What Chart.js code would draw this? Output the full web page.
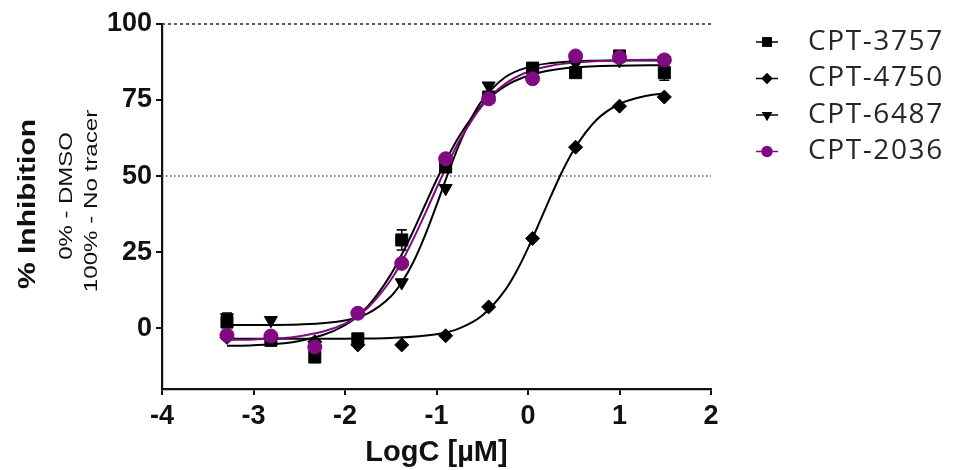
<!DOCTYPE html>
<html><head><meta charset="utf-8">
<script src="https://cdn.jsdelivr.net/npm/chart.js@4.4.1/dist/chart.umd.min.js"></script>
<style>html,body{margin:0;padding:0;background:#fff}#wrap{width:960px;height:470px;position:relative}</style>
</head><body><div id="wrap"><canvas id="c" width="960" height="470"></canvas></div>
<script>
// ---------- data ----------
const seriesNames = ['CPT-3757', 'CPT-4750', 'CPT-6487', 'CPT-2036'];
const logConc = [-3.29, -2.81, -2.33, -1.86, -1.38, -0.90, -0.43, 0.05, 0.52, 1.00, 1.49];
const cpt3757 = [2, -4, -9.5, -3.5, 29, 53, 76, 85.5, 84, 89.5, 84];
const cpt3757Err = [3, 1, 1, 1, 3.3, 1, 1, 1.5, 1, 1.5, 2.5];
const cpt4750 = [-3, -3, -4.5, -5.5, -5.5, -2.5, 7, 29.5, 59.5, 73, 76];
const cpt6487 = [3.5, 2.6, -7, -4.5, 15, 46, 79.7, 85, 87, 88, 88];
const cpt2036 = [-2.3, -2.6, -6.2, 4.9, 21.3, 55.7, 75.4, 82, 89.5, 89, 88.2];
const cpt2036Err = [1, 1, 1, 1, 1, 1, 1, 1.5, 1, 1, 1.5];

// fitted curves
const fitX = [-3.29, -3.0, -2.5, -2.0, -1.75, -1.5, -1.375, -1.25, -1.125, -1.0, -0.875, -0.75, -0.5, -0.25, 0, 0.25, 0.5, 1.0, 1.49];
const fit3757 = [-5.8, -5.6, -4.25, 0.96, 7.2, 17.6, 24.5, 32.2, 40.5, 48.7, 56.4, 63.2, 73.5, 79.6, 83.0, 84.8, 85.7, 86.3, 86.45];
const fit2036 = [-3.87, -3.69, -2.66, 1.5, 6.74, 15.84, 22.1, 29.5, 37.6, 46.0, 54.1, 61.6, 73.2, 80.3, 84.3, 86.3, 87.3, 88.1, 88.25];
const fitX6487 = [-3.29, -3.0, -2.5, -2.0, -1.75, -1.5, -1.375, -1.25, -1.125, -1.0, -0.875, -0.75, -0.625, -0.5, -0.25, 0, 0.25, 0.5, 1.0, 1.49];
const fit6487 = [1.0, 1.03, 1.22, 2.51, 4.85, 10.4, 15.25, 21.9, 30.5, 40.4, 50.8, 60.5, 68.7, 74.9, 82.5, 85.8, 87.15, 87.7, 87.97, 88.0];
const fitX4750 = [-3.29, -2.5, -2.0, -1.5, -1.0, -0.75, -0.5, -0.25, -0.125, 0, 0.125, 0.25, 0.375, 0.5, 0.75, 1.0, 1.25, 1.49];
const fit4750 = [-3.5, -3.49, -3.45, -3.23, -2.01, -0.07, 4.15, 12.5, 18.7, 26.3, 34.75, 43.4, 51.6, 58.6, 68.5, 73.7, 76.1, 77.2];

// reference lines
const refX = [-4, 2];
const ref100 = [100, 100];
const ref50 = [50, 50];

const xTicks = [-4, -3, -2, -1, 0, 1, 2];
const yTicks = [0, 25, 50, 75, 100];
const xTitle = 'LogC [µM]';
const yTitleLines = ['% Inhibition', '0% - DMSO', '100% - No tracer'];

// ---------- styles ----------
const PURPLE = '#800a80';
const pts = (xs, ys) => xs.map((x, i) => ({x: x, y: ys[i]}));
const markerStyles = [
  {pointStyle: 'rect', radius: 8.5, rotation: 0, color: '#000'},
  {pointStyle: 'rectRot', radius: 7, rotation: 0, color: '#000'},
  {pointStyle: 'triangle', radius: 7.5, rotation: 180, color: '#000'},
  {pointStyle: 'circle', radius: 7, rotation: 0, color: PURPLE}
];
const seriesData = [cpt3757, cpt4750, cpt6487, cpt2036];
const seriesErr = [cpt3757Err, null, null, cpt2036Err];
const fits = [[fitX, fit3757], [fitX4750, fit4750], [fitX6487, fit6487], [fitX, fit2036]];

const datasets = [];
datasets.push({type: 'line', label: 'ref100', data: pts(refX, ref100), borderColor: '#333', borderWidth: 1.6,
  borderDash: [3, 3], pointRadius: 0, fill: false, clip: false, order: 20});
datasets.push({type: 'line', label: 'ref50', data: pts(refX, ref50), borderColor: '#555', borderWidth: 1.5,
  borderDash: [1.5, 2.5], pointRadius: 0, fill: false, clip: false, order: 20});
fits.forEach((f, i) => {
  const m = markerStyles[i];
  datasets.push({type: 'line', label: seriesNames[i] + ' fit', data: pts(f[0], f[1]), borderColor: m.color,
    borderWidth: 2, pointRadius: 0, fill: false, cubicInterpolationMode: 'monotone',
    order: i === 3 ? 5 : 10});
});
seriesData.forEach((d, i) => {
  const m = markerStyles[i];
  datasets.push({type: 'scatter', label: seriesNames[i], data: pts(logConc, d), showLine: false,
    pointStyle: m.pointStyle, pointRadius: m.radius, pointRotation: m.rotation,
    backgroundColor: m.color, borderColor: m.color, borderWidth: 1, pointHoverRadius: m.radius,
    order: i === 3 ? 0 : 3, errorBars: seriesErr[i]});
});

const errorBarPlugin = {
  id: 'errbars',
  beforeDatasetDraw(chart, args) {
    const ds = chart.data.datasets[args.index];
    if (!ds.errorBars) return;
    const {ctx, scales: {x, y}} = chart;
    ctx.save();
    ctx.strokeStyle = ds.borderColor;
    ctx.lineWidth = 1.6;
    ds.data.forEach((p, i) => {
      const e = ds.errorBars[i];
      if (!e) return;
      const px = x.getPixelForValue(p.x);
      const y1 = y.getPixelForValue(p.y - e), y2 = y.getPixelForValue(p.y + e);
      ctx.beginPath();
      ctx.moveTo(px, y1); ctx.lineTo(px, y2);
      ctx.moveTo(px - 5, y1); ctx.lineTo(px + 5, y1);
      ctx.moveTo(px - 5, y2); ctx.lineTo(px + 5, y2);
      ctx.stroke();
    });
    ctx.restore();
  }
};

function drawMarker(ctx, style, x, y) {
  const r = style.radius;
  ctx.beginPath();
  if (style.pointStyle === 'rect') {
    const s = Math.SQRT1_2 * r;
    ctx.rect(x - s, y - s, 2 * s, 2 * s);
  } else if (style.pointStyle === 'rectRot') {
    ctx.moveTo(x - r, y); ctx.lineTo(x, y - r); ctx.lineTo(x + r, y); ctx.lineTo(x, y + r); ctx.closePath();
  } else if (style.pointStyle === 'triangle') {
    const h = r * Math.sqrt(3) / 2;
    ctx.moveTo(x, y + r); ctx.lineTo(x - h, y - r / 2); ctx.lineTo(x + h, y - r / 2); ctx.closePath();
  } else {
    ctx.arc(x, y, r, 0, Math.PI * 2);
  }
  ctx.fillStyle = style.color;
  ctx.fill();
}

const legendPlugin = {
  id: 'customLegend',
  afterDraw(chart) {
    const ctx = chart.ctx;
    ctx.save();
    seriesNames.forEach((name, i) => {
      const yy = 42 + i * 36.5;
      const m = markerStyles[i];
      ctx.strokeStyle = m.color; ctx.lineWidth = 1.5;
      ctx.beginPath(); ctx.moveTo(756, yy); ctx.lineTo(778, yy); ctx.stroke();
      drawMarker(ctx, Object.assign({}, m, {radius: m.radius * 0.82}), 767, yy);
      ctx.fillStyle = '#262626';
      ctx.font = '400 28px "Open Sans", Lato, sans-serif';
      try { ctx.letterSpacing = '1.6px'; } catch (e) {}
      ctx.textAlign = 'left'; ctx.textBaseline = 'alphabetic';
      ctx.fillText(name, 808, yy + 7.5);
      try { ctx.letterSpacing = '0px'; } catch (e) {}
    });
    ctx.restore();
  }
};

const yTitlePlugin = {
  id: 'yTitle',
  afterDraw(chart) {
    const ctx = chart.ctx;
    const specs = [
      {font: 'bold 24px "Liberation Sans", Arial, sans-serif', x: 35, y: 204, sx: 1.25},
      {font: '19px "Liberation Sans", Arial, sans-serif', x: 72, y: 196, sx: 1.26},
      {font: '19px "Liberation Sans", Arial, sans-serif', x: 97, y: 201, sx: 1.27}
    ];
    yTitleLines.forEach((t, i) => {
      const s = specs[i];
      ctx.save();
      ctx.translate(s.x, s.y);
      ctx.rotate(-Math.PI / 2);
      ctx.scale(s.sx, 1);
      ctx.font = s.font;
      ctx.fillStyle = '#111';
      ctx.textAlign = 'center';
      ctx.textBaseline = 'alphabetic';
      ctx.fillText(t, 0, 0);
      ctx.restore();
    });
  }
};

const bgPlugin = {
  id: 'bg',
  beforeDraw(chart) {
    const ctx = chart.ctx;
    ctx.save();
    ctx.fillStyle = '#ffffff';
    ctx.fillRect(0, 0, chart.width, chart.height);
    ctx.restore();
  }
};

new Chart(document.getElementById('c'), {
  data: {datasets: datasets},
  options: {
    responsive: false,
    animation: false,
    events: [],
    layout: {padding: {left: 0, right: 249, top: 24, bottom: 0}},
    plugins: {legend: {display: false}, tooltip: {enabled: false}},
    scales: {
      x: {
        type: 'linear', min: -4, max: 2,
        afterFit(s) { s.height = 81; },
        afterBuildTicks(s) { s.ticks = xTicks.map(v => ({value: v})); },
        ticks: {color: '#111', font: {family: '"Liberation Sans", Arial, sans-serif', size: 27, weight: 'bold'},
          padding: 5, maxRotation: 0, autoSkip: false, callback: v => String(v)},
        grid: {drawOnChartArea: false, drawTicks: true, tickLength: 6, color: '#111', lineWidth: 2},
        border: {display: true, color: '#111', width: 2.2},
        title: {display: true, text: xTitle, color: '#111',
          font: {family: '"Liberation Sans", Arial, sans-serif', size: 29, weight: 'bold', lineHeight: 1},
          padding: {top: 0, bottom: 3}}
      },
      y: {
        type: 'linear', min: -20, max: 100,
        afterFit(s) { s.width = 162; },
        afterBuildTicks(s) { s.ticks = yTicks.map(v => ({value: v})); },
        ticks: {color: '#111', font: {family: '"Liberation Sans", Arial, sans-serif', size: 27, weight: 'bold'},
          padding: 4, autoSkip: false, callback: v => String(v)},
        grid: {drawOnChartArea: false, drawTicks: true, tickLength: 6, color: '#111', lineWidth: 2},
        border: {display: true, color: '#111', width: 2.2}
      }
    }
  },
  plugins: [bgPlugin, errorBarPlugin, legendPlugin, yTitlePlugin]
});
</script>
</body></html>
